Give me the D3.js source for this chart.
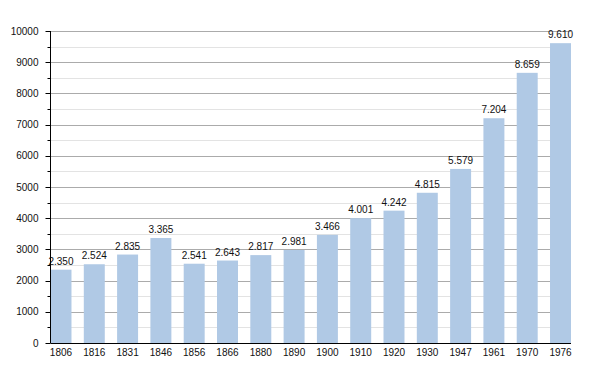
<!DOCTYPE html>
<html>
<head>
<meta charset="utf-8">
<script src="https://cdn.jsdelivr.net/npm/d3@7"></script>
<style>
	body { margin: 0; background: #fff; }
	svg { display: block; font-family: 'Liberation Sans', Arial, sans-serif; }
</style>
</head>
<body>
<div id="chart"></div>
<script>
// Population by census year
const years = ['1806', '1816', '1831', '1846', '1856', '1866', '1880', '1890',
	'1900', '1910', '1920', '1930', '1947', '1961', '1970', '1976'];
const population = [2350, 2524, 2835, 3365, 2541, 2643, 2817, 2981,
	3466, 4001, 4242, 4815, 5579, 7204, 8659, 9610];
const yTicks = [0, 1000, 2000, 3000, 4000, 5000, 6000, 7000, 8000, 9000, 10000];
const yMinor = [500, 1500, 2500, 3500, 4500, 5500, 6500, 7500, 8500, 9500];

const width = 600;
const height = 373;
const marginLeft = 50.5;
const marginRight = 29;
const marginTop = 31;
const marginBottom = 30;

const svg = d3.select('#chart')
	.append('svg')
	.attr('width', width)
	.attr('height', height);

const x = d3.scaleBand()
	.domain(years)
	.range([marginLeft, width - marginRight])
	.paddingInner(0.37)
	.paddingOuter(0);

const y = d3.scaleLinear()
	.domain([0, 10000])
	.range([height - marginBottom, marginTop]);

const fmt = (n) => d3.format(',')(n).replace(',', '.');

// minor gridlines
svg.append('g')
	.selectAll('line')
	.data(yMinor)
	.join('line')
	.attr('x1', marginLeft)
	.attr('x2', width - marginRight)
	.attr('y1', (d) => Math.round(y(d)) + 0.5)
	.attr('y2', (d) => Math.round(y(d)) + 0.5)
	.attr('stroke', '#e3e3e3');

// major gridlines
svg.append('g')
	.selectAll('line')
	.data(yTicks.slice(1))
	.join('line')
	.attr('x1', marginLeft)
	.attr('x2', width - marginRight)
	.attr('y1', (d) => Math.round(y(d)) + 0.5)
	.attr('y2', (d) => Math.round(y(d)) + 0.5)
	.attr('stroke', '#ababab');

// bars
svg.append('g')
	.selectAll('rect')
	.data(population)
	.join('rect')
	.attr('x', (d, i) => x(years[i]))
	.attr('y', (d) => y(d))
	.attr('width', x.bandwidth())
	.attr('height', (d) => y(0) - y(d))
	.attr('fill', '#b0c9e5');

// value labels
svg.append('g')
	.selectAll('text')
	.data(population)
	.join('text')
	.attr('x', (d, i) => x(years[i]) + x.bandwidth() / 2)
	.attr('y', (d) => y(d) - 5)
	.attr('text-anchor', 'middle')
	.attr('font-size', 10)
	.attr('fill', '#111')
	.text((d) => fmt(d));

// y axis
const yAxis = svg.append('g')
	.attr('transform', 'translate(' + marginLeft + ',0)');

yAxis.append('line')
	.attr('y1', y(10000))
	.attr('y2', y(0))
	.attr('stroke', '#000');

yAxis.selectAll('.major')
	.data(yTicks)
	.join('line')
	.attr('class', 'major')
	.attr('x1', -5)
	.attr('x2', 0)
	.attr('y1', (d) => Math.round(y(d)) + 0.5)
	.attr('y2', (d) => Math.round(y(d)) + 0.5)
	.attr('stroke', '#000');

yAxis.selectAll('.minor')
	.data(yMinor)
	.join('line')
	.attr('class', 'minor')
	.attr('x1', -3)
	.attr('x2', 0)
	.attr('y1', (d) => Math.round(y(d)) + 0.5)
	.attr('y2', (d) => Math.round(y(d)) + 0.5)
	.attr('stroke', '#000');

yAxis.selectAll('text')
	.data(yTicks)
	.join('text')
	.attr('x', -12)
	.attr('y', (d) => y(d))
	.attr('dy', '0.35em')
	.attr('text-anchor', 'end')
	.attr('font-size', 10)
	.attr('fill', '#111')
	.text((d) => d);

// x axis
const xAxis = svg.append('g')
	.attr('transform', 'translate(0,' + (Math.round(y(0)) + 0.5) + ')');

xAxis.append('line')
	.attr('x1', marginLeft)
	.attr('x2', width - marginRight)
	.attr('stroke', '#000');

xAxis.selectAll('text')
	.data(years)
	.join('text')
	.attr('x', (d) => x(d) + x.bandwidth() / 2)
	.attr('y', 12)
	.attr('text-anchor', 'middle')
	.attr('font-size', 10)
	.attr('fill', '#111')
	.text((d) => d);
</script>
</body>
</html>
